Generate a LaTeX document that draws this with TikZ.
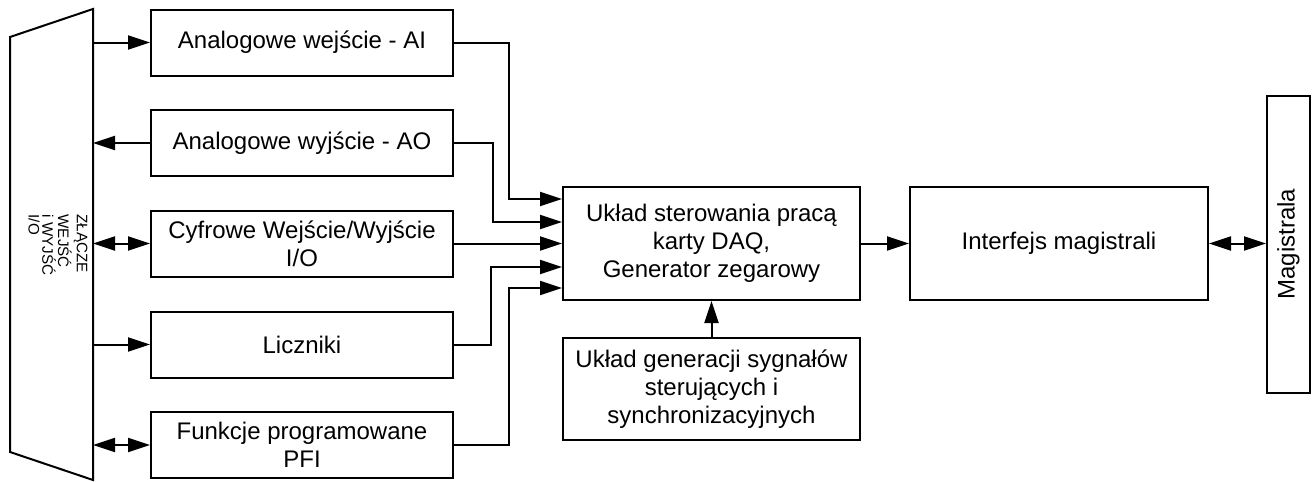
\documentclass[tikz,border=0pt]{standalone}
\usepackage{fontspec}
\setmainfont{Liberation Sans}
\usetikzlibrary{arrows.meta,calc}

\tikzset{
  blok/.style={draw, line width=1pt, align=center, minimum width=151pt, minimum height=33pt, inner sep=2pt},
  >={Triangle[length=11pt,width=7pt]}
}

\begin{document}
\begin{tikzpicture}[x=0.5pt, y=-0.5pt, line width=1pt, font=\fontsize{12}{14}\selectfont]
  \useasboundingbox (0,0) rectangle (1314,482);
  % zlacze
  \draw (10,37) -- (93,9) -- (93,480) -- (10,452) -- cycle;
  \coordinate (zr) at (93,0);
  \node[rotate=-90, align=left, inner sep=0pt, font=\fontsize{7.6}{6.8}\selectfont] (zl) at (58,245) {ZŁĄCZE\\WEJŚĆ\\i WYJŚĆ\\I/O};
  % bloki po lewej
  \node[blok] (ai) at (302,42.5) {Analogowe wejście - AI};
  \node[blok] (ao) at (302,143) {Analogowe wyjście - AO};
  \node[blok] (cyf) at (302,243.5) {Cyfrowe Wejście/Wyjście\\I/O};
  \node[blok] (licz) at (302,344.5) {Liczniki};
  \node[blok] (pfi) at (302,445) {Funkcje programowane\\PFI};
  % srodek
  \node[blok, minimum width=148.5pt, minimum height=56.5pt] (ster) at (711.5,243.5) {Układ sterowania pracą\\karty DAQ,\\Generator zegarowy};
  \node[blok, minimum width=148.5pt, minimum height=51pt] (gen) at (711.5,389) {Układ generacji sygnałów\\sterujących i\\synchronizacyjnych};
  \node[blok, minimum width=149pt, minimum height=56.5pt] (intf) at (1059,243.5) {Interfejs magistrali};
  \node[blok, minimum width=148.5pt, minimum height=21.5pt, rotate=90] (mag) at (1288.5,244) {Magistrala};
  % polaczenia ze zlaczem
  \draw[->] (zr |- ai.west) -- (ai.west);
  \draw[->] (ao.west) -- (zr |- ao.west);
  \draw[<->] (zr |- cyf.west) -- (cyf.west);
  \draw[->] (zr |- licz.west) -- (licz.west);
  \draw[<->] (zr |- pfi.west) -- (pfi.west);
  % do ukladu sterowania
  \draw[->] (ai.east) -- ++(55,0) |- ([yshift=22.25pt]ster.west);
  \draw[->] (ao.east) -- ++(39,0) |- ([yshift=10.75pt]ster.west);
  \draw[->] (cyf.east) -- (ster.west);
  \draw[->] (licz.east) -- ++(37,0) |- ([yshift=-11.75pt]ster.west);
  \draw[->] (pfi.east) -- ++(55,0) |- ([yshift=-22.25pt]ster.west);
  \draw[->] (gen.north) -- (ster.south);
  \draw[->] (ster.east) -- (intf.west);
  \draw[<->] (intf.east) -- (intf.east -| mag.north);
\end{tikzpicture}
\end{document}
